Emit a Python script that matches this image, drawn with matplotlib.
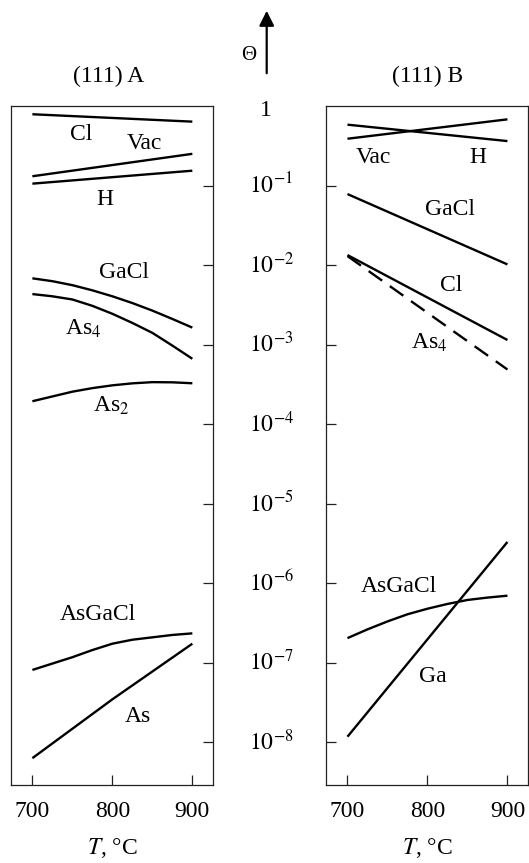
import numpy as np
import matplotlib
matplotlib.use("Agg")
import matplotlib.pyplot as plt
from matplotlib.transforms import blended_transform_factory

plt.rcParams['font.family'] = ['Liberation Serif', 'DejaVu Serif']
plt.rcParams['mathtext.fontset'] = 'stix'

# ---- data (log10 of coverage) ----
T = [700, 725, 750, 775, 800, 825, 850, 875, 900]
T5 = [700, 750, 800, 850, 900]
T2 = [700, 900]

# (111) A
A_Cl = [-0.10, -0.193]
A_Vac = [-0.88, -0.598]
A_H = [-0.973, -0.81]
A_GaCl = [-2.164, -2.20, -2.25, -2.315, -2.39, -2.475, -2.57, -2.675, -2.784]
A_As4 = [-2.362, -2.39, -2.43, -2.51, -2.61, -2.725, -2.85, -3.01, -3.176]
A_As2 = [-3.71, -3.65, -3.59, -3.545, -3.51, -3.485, -3.47, -3.472, -3.484]
A_AsGaCl = [-7.09, -7.01, -6.93, -6.84, -6.76, -6.71, -6.68, -6.65, -6.63]
A_As = [-8.20, -7.83, -7.46, -7.11, -6.76]

# (111) B
B_Vac = [-0.408, -0.164]
B_H = [-0.231, -0.4375]
B_GaCl = [-1.104, -1.989]
B_Cl = [-1.871, -2.94]
B_As4 = [-1.884, -3.311]
B_AsGaCl = [-6.69, -6.58, -6.48, -6.39, -6.32, -6.26, -6.21, -6.18, -6.156]
B_Ga = [-7.93, -5.48]

ytick_exps = [0, -1, -2, -3, -4, -5, -6, -7, -8]
xticks = [700, 800, 900]

# label positions (T, log10 theta)
A_labels = [("Cl", 761, -0.358), ("Vac", 840, -0.47), ("H", 790, -1.17),
            ("GaCl", 815, -2.096), ("As$_4$", 763, -2.805), ("As$_2$", 798, -3.77),
            ("AsGaCl", 782, -6.395), ("As", 832, -7.68)]
B_labels = [("Vac", 733, -0.64), ("H", 863, -0.64), ("GaCl", 828, -1.295),
            ("Cl", 830, -2.258), ("As$_4$", 802, -2.971), ("AsGaCl", 764, -6.043),
            ("Ga", 807, -7.17)]

W, H = 529, 863
fig = plt.figure(figsize=(W / 100, H / 100), dpi=100)

def ax_rect(x0, x1, y0, y1):
    return [x0 / W, 1 - y1 / H, (x1 - x0) / W, (y1 - y0) / H]

axA = fig.add_axes(ax_rect(11.1, 212.9, 106.3, 784.8))
axB = fig.add_axes(ax_rect(326.2, 528.0, 106.3, 784.8))

lw = 1.7
fs = 17

def p(v):
    return 10 ** np.asarray(v)

for ax in (axA, axB):
    ax.set_yscale('log')
    ax.set_xlim(673.4, 925.7)
    ax.set_ylim(10 ** -8.535, 1.0)
    for s in ax.spines.values():
        s.set_linewidth(0.9)
        s.set_color('#222222')
    ax.set_xticks(xticks)
    ax.set_xticklabels([str(t) for t in xticks], fontsize=fs)
    ax.tick_params(axis='x', direction='in', length=7.5, width=0.9, pad=12,
                   colors='#222222', labelcolor='black')
    ax.set_yticks([10.0 ** e for e in ytick_exps[1:]])
    ax.yaxis.set_minor_locator(matplotlib.ticker.NullLocator())
    ax.set_yticklabels([])
    ax.set_xlabel('$T$, °C', fontsize=fs, labelpad=10)

axA.tick_params(axis='y', direction='in', length=7.5, width=0.9, left=False, right=True, colors='#222222')
axB.tick_params(axis='y', direction='in', length=7.5, width=0.9, left=True, right=False, colors='#222222')

kw = dict(color='black', lw=lw, solid_capstyle='butt', solid_joinstyle='round')
axA.plot(T2, p(A_Cl), **kw)
axA.plot(T2, p(A_Vac), **kw)
axA.plot(T2, p(A_H), **kw)
axA.plot(T, p(A_GaCl), **kw)
axA.plot(T, p(A_As4), **kw)
axA.plot(T, p(A_As2), **kw)
axA.plot(T, p(A_AsGaCl), **kw)
axA.plot(T5, p(A_As), **kw)

axB.plot(T2, p(B_Vac), **kw)
axB.plot(T2, p(B_H), **kw)
axB.plot(T2, p(B_GaCl), **kw)
axB.plot(T2, p(B_Cl), **kw)
axB.plot(T2, p(B_As4), color='black', lw=lw, ls=(0, (7, 4)))
axB.plot(T, p(B_AsGaCl), **kw)
axB.plot(T2, p(B_Ga), **kw)

for txt, tx, ly in A_labels:
    axA.text(tx, 10 ** ly, txt, fontsize=fs, ha='center', va='center')
for txt, tx, ly in B_labels:
    axB.text(tx, 10 ** ly, txt, fontsize=fs, ha='center', va='center')

# central y tick labels
trans = blended_transform_factory(fig.transFigure, axA.transData)
for e in ytick_exps:
    if e == 0:
        fig.text(266 / W, 1 - 110 / H, "1", fontsize=fs, ha='center', va='center')
    else:
        axA.text(249 / W, 10.0 ** e, r'$10^{%d}$' % e, transform=trans,
                 fontsize=fs, ha='left', va='center', clip_on=False)

# titles
fig.text(108.8 / W, 1 - 76 / H, "(111) A", fontsize=fs, ha='center', va='center')
fig.text(427.6 / W, 1 - 76 / H, "(111) B", fontsize=fs, ha='center', va='center')

# Theta arrow
fig.text(249 / W, 1 - 56 / H, "Θ", fontsize=fs - 2, ha='center', va='center')
fig.add_artist(matplotlib.patches.FancyArrowPatch(
    (266.7 / W, 1 - 76 / H), (266.7 / W, 1 - 8 / H), transform=fig.transFigure,
    arrowstyle='-|>,head_length=6,head_width=3', lw=1.6, color='black', mutation_scale=1.5))

fig.savefig('out.png', dpi=100)
